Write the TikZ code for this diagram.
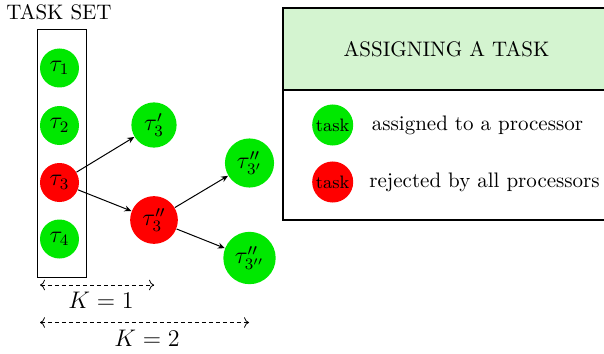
\documentclass[tikz,border=0pt]{standalone}
\usetikzlibrary{arrows.meta}
\definecolor{tgreen}{RGB}{0,232,0}
\definecolor{tred}{RGB}{255,0,0}
\definecolor{hdrfill}{RGB}{212,244,208}
\begin{document}
\begin{tikzpicture}[x=0.5pt,y=-0.5pt,
  font=\fontsize{10.5}{12}\selectfont,
  task/.style={circle,minimum size=19.5pt,inner sep=2.6pt,font=\fontsize{11.5}{13}\selectfont},
  ok/.style={task,fill=tgreen},
  bad/.style={task,fill=tred},
  conn/.style={-{Stealth[length=3.5pt,width=3pt,inset=1.2pt]},line width=0.5pt},
  kspan/.style={{To[length=2.5pt]}-{To[length=2.5pt]},line width=0.4pt,dash pattern=on 2pt off 1.5pt},
  lbl/.style={font=\large},
  legtask/.style={circle,minimum size=19.5pt,inner sep=1pt,font=\small}
]
\useasboundingbox (0,0) rectangle (604,353);
% task set
\node (ts) at (59,12) {TASK SET};
\draw[line width=0.5pt] (37,30) rectangle (86,277);
\node[ok] (t1) at (59.5,68) {$\tau_1$};
\node[ok] (t2) at (59.5,125.5) {$\tau_2$};
\node[bad] (t3) at (59.5,182.5) {$\tau_3$};
\node[ok] (t4) at (59.5,239) {$\tau_4$};
\node[ok] (t3a) at (154,125) {$\tau'_3$};
\node[bad] (t3b) at (154,220) {$\tau''_3$};
\node[ok] (t3c) at (249.5,163) {$\tau''_{3'}$};
\node[ok] (t3d) at (249.5,258) {$\tau''_{3''}$};
\draw[conn] (t3) -- (t3a);
\draw[conn] (t3) -- (t3b);
\draw[conn] (t3b) -- (t3c);
\draw[conn] (t3b) -- (t3d);
% spans
\coordinate (k1a) at (40,285);
\coordinate (k1b) at (154,285);
\coordinate (k2a) at (40,322.5);
\coordinate (k2b) at (249,322.5);
\draw[kspan] (k1a) -- (k1b);
\draw[kspan] (k2a) -- (k2b);
\node[lbl] (k1) at (101,300) {$K=1$};
\node[lbl] (k2) at (147,338) {$K=2$};
% legend
\fill[hdrfill] (283,8) rectangle (640,90);
\draw[line width=0.8pt] (640,8) -- (283,8) -- (283,220) -- (640,220);
\draw[line width=1.1pt] (283,90) -- (640,90);
\node (hdr) at (446.5,49) {ASSIGNING A TASK};
\node[legtask,fill=tgreen] (lg) at (332.7,125) {task};
\node[legtask,fill=tred] (lr) at (332.7,182) {task};
\node[anchor=west,inner sep=0pt] (lgt) at (371.5,125) {assigned to a processor};
\node[anchor=west,inner sep=0pt] (lrt) at (369,182) {rejected by all processors};
\end{tikzpicture}
\end{document}
